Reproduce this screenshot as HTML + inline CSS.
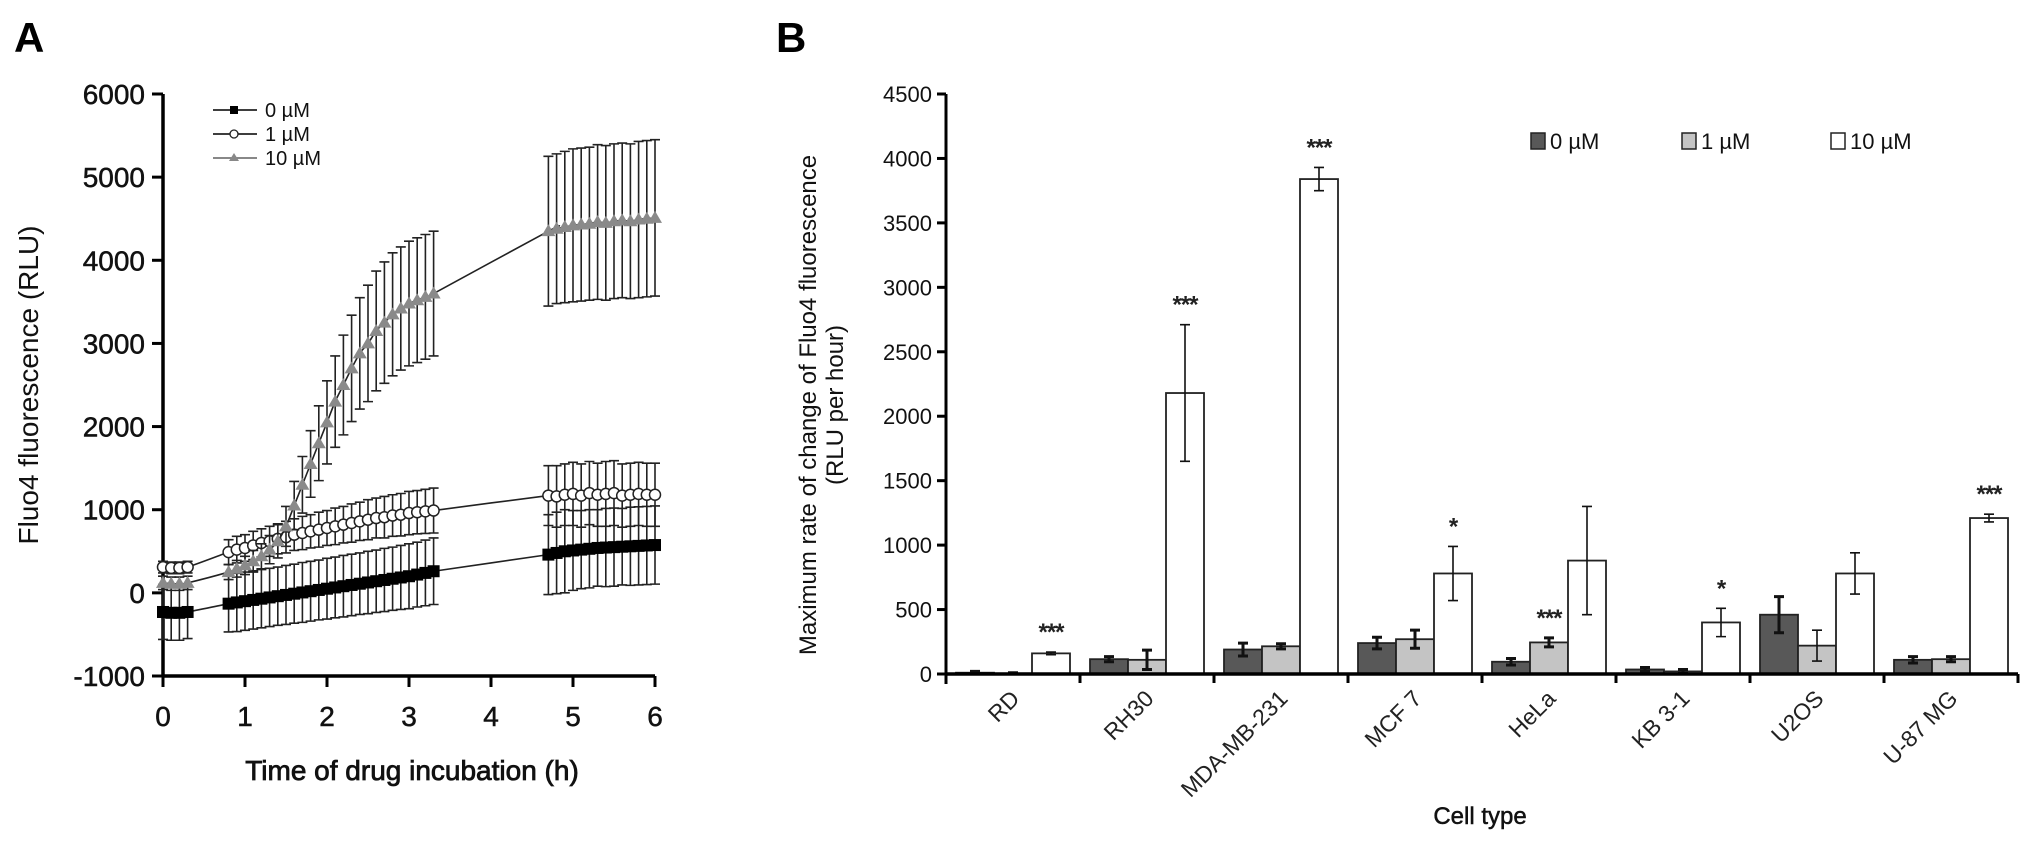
<!DOCTYPE html>
<html><head><meta charset="utf-8"><style>
html,body{margin:0;padding:0;background:#fff;}
svg{display:block;font-family:"Liberation Sans",Arial,sans-serif;}
</style></head><body>
<svg id="fig" width="2031" height="842" viewBox="0 0 2031 842" xmlns="http://www.w3.org/2000/svg">
<text x="14" y="52" font-size="42" font-weight="bold">A</text>
<text x="776" y="52" font-size="42" font-weight="bold">B</text>
<g id="pa"></g>
<g id="pb"></g>
</svg>
<script>
// ---------- Panel A data ----------
const timesA = [0,0.1,0.2,0.3,
 0.8,0.9,1.0,1.1,1.2,1.3,1.4,1.5,1.6,1.7,1.8,1.9,2.0,2.1,2.2,2.3,2.4,2.5,2.6,2.7,2.8,2.9,3.0,3.1,3.2,3.3,
 4.7,4.8,4.9,5.0,5.1,5.2,5.3,5.4,5.5,5.6,5.7,5.8,5.9,6.0];
const val0 = [-230,-240,-240,-230,
 -130,-115,-100,-85,-70,-55,-40,-25,-10,5,20,35,50,65,80,95,110,125,140,155,170,185,200,220,240,260,
 460,480,500,510,520,530,540,545,550,555,560,565,570,575];
const err0 = [330,330,330,320,
 340,350,350,350,350,350,350,355,355,360,360,360,365,365,370,370,370,375,375,380,380,385,390,390,395,400,
 480,490,500,480,470,470,460,470,470,460,470,470,470,470];
const val1 = [310,300,300,310,
 490,520,540,570,600,620,650,670,700,720,740,760,780,800,820,840,860,880,900,910,930,940,960,970,980,990,
 1170,1160,1180,1190,1170,1200,1180,1190,1200,1170,1180,1190,1180,1180];
const err1 = [70,70,70,70,
 150,160,160,170,170,180,180,190,190,200,200,210,210,220,220,230,230,240,240,250,250,255,260,260,265,270,
 360,370,370,380,380,380,380,390,390,380,380,380,380,380];
const val10 = [120,110,110,120,
 250,290,330,380,440,520,620,800,1050,1300,1550,1800,2050,2300,2500,2700,2880,3000,3150,3250,3350,3420,3480,3520,3560,3600,
 4350,4380,4400,4420,4430,4440,4460,4450,4470,4480,4470,4490,4500,4510];
const err10 = [80,80,80,80,
 90,100,110,130,150,170,200,240,290,340,400,450,500,550,600,640,670,700,720,730,740,740,750,750,750,750,
 900,900,910,920,920,920,930,930,930,930,930,940,940,940];
const yTicksA = [-1000,0,1000,2000,3000,4000,5000,6000];
const xTicksA = [0,1,2,3,4,5,6];

// ---------- Panel B data ----------
const cells = ["RD","RH30","MDA-MB-231","MCF 7","HeLa","KB 3-1","U2OS","U-87 MG"];
const b0 = [10,115,190,240,95,35,460,110];
const b0e = [10,20,50,45,25,15,140,25];
const b1 = [5,110,215,270,245,20,220,115];
const b1e = [5,75,20,70,35,15,120,20];
const b10 = [160,2180,3840,780,880,400,780,1210];
const b10e = [10,530,90,210,420,110,160,30];
const sig0 = ["","","","","","","",""];
const sig1 = ["","","","","***","","",""];
const sig10 = ["***","***","***","*","","*","","***"];
const yTicksB = [0,500,1000,1500,2000,2500,3000,3500,4000,4500];
const legendB = ["0 µM","1 µM","10 µM"];

const NS="http://www.w3.org/2000/svg";
function mk(parent,tag,attrs,text){const e=document.createElementNS(NS,tag);for(const k in attrs)e.setAttribute(k,attrs[k]);if(text!==undefined)e.textContent=text;parent.appendChild(e);return e;}

// ===== Panel A =====
const pa=document.getElementById('pa');
const ax0=163, ax1=655, ayTop=94, ayBot=676;
const xA=t=>ax0+(t-0)/6*(ax1-ax0);
const yA=v=>ayBot-(v+1000)/7000*(ayBot-ayTop);

let l=mk(pa,'line',{x1:ax0,y1:ayTop,x2:ax0,y2:ayBot+1.5,stroke:'#000','stroke-width':3.5});


l=mk(pa,'line',{x1:ax0-1.5,y1:ayBot,x2:ax1,y2:ayBot,stroke:'#000','stroke-width':3.5});


yTicksA.forEach(v=>{
  const y=yA(v);
  const t=mk(pa,'line',{x1:ax0-11,y1:y,x2:ax0,y2:y,stroke:'#000','stroke-width':3});
  
  
  const tx=mk(pa,'text',{x:ax0-18,y:y+10,'font-size':28,'text-anchor':'end',fill:'#111',stroke:'#111','stroke-width':0.5},String(v));
  
  
});
xTicksA.forEach(v=>{
  const x=xA(v);
  const t=mk(pa,'line',{x1:x,y1:ayBot,x2:x,y2:ayBot+11,stroke:'#000','stroke-width':3});
  
  
  const tx=mk(pa,'text',{x:x,y:ayBot+50,'font-size':28,'text-anchor':'middle',fill:'#111',stroke:'#111','stroke-width':0.5},String(v));
  
  
});
let tt=mk(pa,'text',{x:412,y:780,'font-size':28,'text-anchor':'middle',fill:'#111',stroke:'#111','stroke-width':0.8},'Time of drug incubation (h)');


tt=mk(pa,'text',{x:0,y:0,'font-size':28,'text-anchor':'middle',fill:'#111',transform:'translate(38,385) rotate(-90)'},'Fluo4 fluorescence (RLU)');



function smoothPath(pts){
  let d='M'+pts[0][0]+','+pts[0][1];
  for(let i=0;i<pts.length-1;i++){
    const p0=pts[Math.max(0,i-1)],p1=pts[i],p2=pts[i+1],p3=pts[Math.min(pts.length-1,i+2)];
    const c1x=p1[0]+(p2[0]-p0[0])/6,c1y=p1[1]+(p2[1]-p0[1])/6;
    const c2x=p2[0]-(p3[0]-p1[0])/6,c2y=p2[1]-(p3[1]-p1[1])/6;
    d+=' C'+c1x+','+c1y+' '+c2x+','+c2y+' '+p2[0]+','+p2[1];
  }
  return d;
}
function drawSeries(vals,errs,kind,name){
  const g=mk(pa,'g',{});
  
  
  timesA.forEach((t,i)=>{
    const x=xA(t),yt=yA(vals[i]+errs[i]),yb=yA(vals[i]-errs[i]);
    const e=mk(g,'path',{d:`M${x},${yt}V${yb}M${x-5},${yt}H${x+5}M${x-5},${yb}H${x+5}`,stroke:'#222','stroke-width':1.6,fill:'none'});
    
    
  });
  const pts=timesA.map((t,i)=>[xA(t),yA(vals[i])]);
  const f=mk(g,'path',{d:smoothPath(pts),stroke:'#222','stroke-width':1.6,fill:'none'});
  
  
  timesA.forEach((t,i)=>{
    const x=xA(t),y=yA(vals[i]);let m;
    if(kind==='sq') m=mk(g,'rect',{x:x-6,y:y-6,width:12,height:12,fill:'#000'});
    else if(kind==='ci') m=mk(g,'circle',{cx:x,cy:y,r:5.5,fill:'#fff',stroke:'#222','stroke-width':1.5});
    else m=mk(g,'path',{d:`M${x},${y-7}L${x+7},${y+5}L${x-7},${y+5}Z`,fill:'#8a8a8a'});
    
    
  });
}
drawSeries(val0,err0,'sq','series-0uM');
drawSeries(val1,err1,'ci','series-1uM');
drawSeries(val10,err10,'tr','series-10uM');

const legA=[['0 µM','sq'],['1 µM','ci'],['10 µM','tr']];
legA.forEach((d,i)=>{
  const y=110+i*24;
  const g=mk(pa,'g',{});
  
  
  mk(g,'line',{x1:213,y1:y,x2:257,y2:y,stroke:d[1]==='tr'?'#777':'#222','stroke-width':1.8});
  if(d[1]==='sq') mk(g,'rect',{x:230,y:y-4,width:8,height:8,fill:'#000'});
  else if(d[1]==='ci') mk(g,'circle',{cx:234,cy:y,r:4,fill:'#fff',stroke:'#222','stroke-width':1.3});
  else mk(g,'path',{d:`M234,${y-5}L239,${y+3}L229,${y+3}Z`,fill:'#888'});
  mk(g,'text',{x:265,y:y+7,'font-size':20,fill:'#111'},d[0]);
});

// ===== Panel B =====
const pb=document.getElementById('pb');
const bx0=946, bx1=2018, byTop=94, byBot=674;
const groupW=(bx1-bx0)/cells.length;
const yB=v=>byBot-v/4500*(byBot-byTop);
const barW=38, barOff=10;

l=mk(pb,'line',{x1:bx0,y1:byTop,x2:bx0,y2:byBot+10,stroke:'#000','stroke-width':3});


yTicksB.forEach(v=>{
  const y=yB(v);
  const t=mk(pb,'line',{x1:bx0-9,y1:y,x2:bx0,y2:y,stroke:'#000','stroke-width':3});
  
  
  const tx=mk(pb,'text',{x:bx0-14,y:y+8,'font-size':22,'text-anchor':'end',fill:'#111'},String(v));
  
  
});
tt=mk(pb,'text',{x:0,y:0,'font-size':24,'text-anchor':'middle',fill:'#111',transform:'translate(816,405) rotate(-90)'},'Maximum rate of change of Fluo4 fluorescence');


tt=mk(pb,'text',{x:0,y:0,'font-size':24,'text-anchor':'middle',fill:'#111',transform:'translate(843,405) rotate(-90)'},'(RLU per hour)');


tt=mk(pb,'text',{x:1480,y:824,'font-size':24,'text-anchor':'middle',fill:'#111',stroke:'#111','stroke-width':0.5},'Cell type');



const series=[[b0,b0e,'#585858',sig0,'bar-0uM'],[b1,b1e,'#c4c4c4',sig1,'bar-1uM'],[b10,b10e,'#ffffff',sig10,'bar-10uM']];
cells.forEach((c,ci)=>{
  const gx=bx0+ci*groupW;
  series.forEach((s,si)=>{
    const v=s[0][ci],e=s[1][ci];
    const x=gx+barOff+si*barW;
    const r=mk(pb,'rect',{x:x,y:yB(v),width:barW,height:byBot-yB(v),fill:s[2],stroke:'#222','stroke-width':1.8});
    
    
    const cx=x+barW/2,yt=yB(v+e),yb=yB(Math.max(0,v-e));
    const dark=si===0||si===1&&e<80;
    const eb=mk(pb,'path',{d:`M${cx},${yt}V${yb}M${cx-5},${yt}H${cx+5}M${cx-5},${yb}H${cx+5}`,stroke:'#111','stroke-width':dark?3:1.6,fill:'none'});
    
    
    if(s[3][ci]){
      const st=mk(pb,'text',{x:cx,y:yt-12,'font-size':24,'font-weight':'bold','text-anchor':'middle',fill:'#222','letter-spacing':'-1'},s[3][ci]);
      
      
    }
  });
  const tk=mk(pb,'line',{x1:gx+groupW,y1:byBot,x2:gx+groupW,y2:byBot+9,stroke:'#000','stroke-width':3});
  
  
  const cxl=gx+groupW/2+8;
  const lb=mk(pb,'text',{x:0,y:0,'font-size':23,'text-anchor':'end',fill:'#222',transform:`translate(${cxl},${byBot+26}) rotate(-45)`},c);
  
  
});
l=mk(pb,'line',{x1:bx0,y1:byBot,x2:bx1,y2:byBot,stroke:'#000','stroke-width':3.5});



const legX=[1531,1682,1831], legC=['#585858','#c4c4c4','#ffffff'];
legendB.forEach((t,i)=>{
  const g=mk(pb,'g',{});
  
  
  mk(g,'rect',{x:legX[i],y:133,width:14,height:16,fill:legC[i],stroke:'#222','stroke-width':1.5});
  mk(g,'text',{x:legX[i]+19,y:149,'font-size':22,fill:'#111'},t);
});
</script>
</body></html>
